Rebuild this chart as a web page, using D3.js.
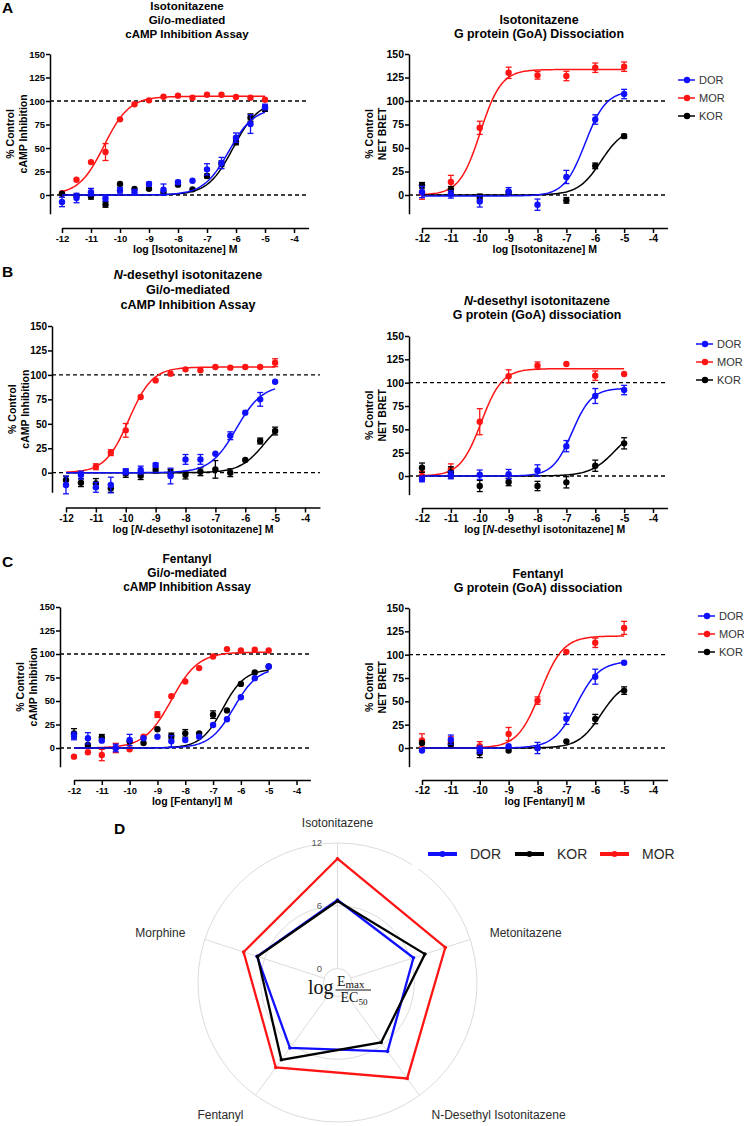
<!DOCTYPE html>
<html lang="en">
<head>
<meta charset="UTF-8">
<title>Isotonitazene, N-desethyl isotonitazene and fentanyl at opioid receptors</title>
<style>
  body { margin: 0; padding: 0; background: #fff; }
  svg { display: block; font-family: "Liberation Sans", Arial, sans-serif; }
  .axis path, .axis line { stroke: #000; stroke-width: 1.5; }
  .axis text { font-weight: bold; fill: #000; }
</style>
</head>
<body>
<div id="figure"></div>
<script src="https://d3js.org/d3.v7.min.js"></script>
<script>
const width = 744, height = 1126;
const fontFamily = '"Liberation Sans", Arial, sans-serif';

// doses (log M)
const halfLogDoses = [-12, -11.5, -11, -10.5, -10, -9.5, -9, -8.5, -8, -7.5, -7, -6.5, -6, -5.5, -5];
const logDoses = [-12, -11, -10, -9, -8, -7, -6, -5];
const xTickValues = [-12, -11, -10, -9, -8, -7, -6, -5, -4];
const yTickValues = [0, 25, 50, 75, 100, 125, 150];
const receptors = ['DOR', 'MOR', 'KOR'];
const drawOrder = ['MOR', 'KOR', 'DOR'];
const colors = { DOR: '#1010ff', MOR: '#ff1414', KOR: '#000000' };

// A: isotonitazene, cAMP inhibition
const isoCampMOR = [2, 16.3, 35, 45.7, 80.5, 96.5, 100.7, 104.6, 105.7, 103.5, 106.7, 106.7, 104.3, 103.5, 101.4];
const isoCampMORerr = [0, 0, 0, 9, 0, 0, 0, 0, 0, 0, 0, 0, 0, 0, 0];
const isoCampDOR = [-7.4, -3.2, 3, -3.5, 5, 3, 11.7, 5.7, 13.5, 15.2, 27.3, 34, 61, 75.5, 93.6];
const isoCampDORerr = [5, 5, 4, 3, 3, 3, 2, 6, 2, 0, 6, 6, 5, 10, 3];
const isoCampKOR = [1.4, -1, -1.4, -10, 11.7, 6.4, 6.7, 3, 11, 6, 20.2, 33.3, 56.4, 82.3, 92];
const isoCampKORerr = [0, 0, 3, 3, 0, 0, 0, 0, 0, 0, 2, 3, 3, 4, 3];
// A: isotonitazene, GoA dissociation
const isoGoaMOR = [2.5, 13.9, 71.5, 130, 127.3, 126.6, 135.4, 136.5];
const isoGoaMORerr = [7, 7, 7, 6, 4, 5, 5, 5];
const isoGoaDOR = [3.2, 0.7, -6.8, 3.9, -10.3, 19.2, 80.3, 107.4];
const isoGoaDORerr = [6, 4, 6, 4, 6, 7, 5, 5];
const isoGoaKOR = [10.3, 6, -2, 2, null, -5.7, 31, 62.6];
const isoGoaKORerr = [3, 3, 3, 2, 0, 3, 3, 2];

// B: N-desethyl isotonitazene, cAMP inhibition
const ndCampMOR = [null, null, 6.1, 20.5, 43.3, 77.4, 94.4, 101.3, 105.7, 104.7, 108.1, 107.4, 108.1, 108.1, 112.5];
const ndCampMORerr = [0, 0, 3, 3, 7, 0, 0, 0, 0, 0, 0, 0, 0, 0, 4];
const ndCampDOR = [-12.6, -2.4, -15, -12.6, 1, 2.7, 7.8, -3.4, 13.6, 13.6, 19.4, 37.8, 61.4, 75, 93];
const ndCampDORerr = [9, 4, 5, 8, 3, 4, 2, 8, 5, 5, 0, 4, 0, 7, 0];
const ndCampKOR = [-7.5, -10.2, -11, -16, -0.7, -3, 2.7, 0.3, -2.4, 1, 3.4, 0, 13, 32.4, 42.6];
const ndCampKORerr = [4, 4, 5, 4, 4, 4, 3, 3, 4, 4, 9, 4, 0, 3, 4];
// B: N-desethyl isotonitazene, GoA dissociation
const ndGoaMOR = [0, 7, 58.2, 106.8, 118.2, 120, 107.5, 109.3];
const ndGoaMORerr = [5, 6, 14, 7, 4, 0, 5, 0];
const ndGoaDOR = [-3.2, 1, 1.4, 2, 6, 32, 85.7, 92.1];
const ndGoaDORerr = [3, 4, 5, 5, 6, 6, 8, 5];
const ndGoaKOR = [8.9, 3.9, -10.7, -6.4, -10.7, -6.8, 11, 35];
const ndGoaKORerr = [5, 6, 6, 4, 5, 6, 6, 6];

// C: fentanyl, cAMP inhibition
const fenCampMOR = [-9.2, -4.6, -7.5, 0, -1.4, 12, 35.5, 55, 70.7, 85, 97.4, 105.2, 103.8, 104.5, 103.8];
const fenCampMORerr = [0, 0, 6, 5, 0, 0, 3, 0, 0, 0, 0, 0, 0, 0, 0];
const fenCampDOR = [12.8, 10.3, 7.8, 0, 8.5, 10.3, 12, 7.1, 8.5, 12, 24.5, 30.6, 54, 74.3, 86.7];
const fenCampDORerr = [4, 6, 0, 4, 6, 0, 0, 6, 0, 0, 0, 0, 0, 0, 0];
const fenCampKOR = [15.6, 3.2, 11.4, null, 6.8, 5.3, 20, 12.8, 15.6, 15.6, 35.5, 40, 68.2, 80.3, 86.7];
const fenCampKORerr = [5, 0, 3, 0, 0, 0, 0, 3, 4, 0, 4, 0, 0, 0, 0];
// C: fentanyl, GoA dissociation
const fenGoaMOR = [8.2, 6, 1.8, 15, 50.8, 103, 112.7, 128.7];
const fenGoaMORerr = [7, 6, 5, 7, 4, 0, 5, 7];
const fenGoaDOR = [-2.8, 8.9, -1.8, 1.8, 0, 31.3, 76.4, 91.4];
const fenGoaDORerr = [0, 5, 4, 0, 6, 6, 8, 0];
const fenGoaKOR = [5.3, 3.6, -5.3, -2.8, 0, 7.1, 31, 61.5];
const fenGoaKORerr = [0, 0, 5, 0, 0, 0, 5, 4];

// fitted curves: [bottom, top, logEC50, hill]
const isoCampFit = { MOR: [0, 105, -10.55, 1.0], DOR: [0, 93, -6.25, 1.0], KOR: [0, 100, -6.1, 1.0] };
const isoGoaFit = { MOR: [0, 133.5, -9.98, 1.2], DOR: [-1, 111, -6.35, 1.2], KOR: [0, 72, -5.8, 1.1] };
const ndCampFit = { MOR: [0, 108, -9.9, 1.1], DOR: [0, 90, -6.3, 1.0], KOR: [0, 60, -5.35, 1.05] };
const ndGoaFit = { MOR: [0, 115, -9.95, 1.2], DOR: [0, 94, -6.8, 1.3], KOR: [0, 55, -5.3, 1.0] };
const fenCampFit = { MOR: [0, 102, -8.5, 0.9], DOR: [0, 86, -6.25, 1.0], KOR: [0, 84, -6.65, 1.1] };
const fenGoaFit = { MOR: [0, 120, -7.9, 1.1], DOR: [0, 93, -6.65, 1.1], KOR: [0, 72, -5.8, 1.1] };

// D: radar, log(Emax/EC50)
const radarAxes = ['Isotonitazene', 'Metonitazene', 'N-Desethyl Isotonitazene', 'Fentanyl', 'Morphine'];
const radarTicks = [0, 6, 12];
const radarDOR = [6.55, 6.3, 6.8, 6.4, 6.75];
const radarKOR = [6.45, 7.45, 5.75, 7.8, 6.7];
const radarMOR = [10.5, 9.5, 10.0, 8.7, 8.1];
const radarSeries = [['DOR', radarDOR], ['KOR', radarKOR], ['MOR', radarMOR]];

const panels = [
  { doses: halfLogDoses, fit: isoCampFit,
    values: { DOR: isoCampDOR, MOR: isoCampMOR, KOR: isoCampKOR },
    errors: { DOR: isoCampDORerr, MOR: isoCampMORerr, KOR: isoCampKORerr },
    x12: 62, x4: 294, yAxisX: 50, yTop: 54, yZero: 195, xAxisY: 228,
    title: ['Isotonitazene', 'Gi/o-mediated', 'cAMP Inhibition Assay'],
    titleX: 187, titleY: 9.5, titleStep: 14, titleSize: 11.5, tickSize: 9.5,
    yLabel: ['% Control', 'cAMP Inhibition'], xLabel: 'log [Isotonitazene] M',
    letter: 'A', letterY: 12.5 },
  { doses: logDoses, fit: isoGoaFit,
    values: { DOR: isoGoaDOR, MOR: isoGoaMOR, KOR: isoGoaKOR },
    errors: { DOR: isoGoaDORerr, MOR: isoGoaMORerr, KOR: isoGoaKORerr },
    x12: 422, x4: 653, yAxisX: 409, yTop: 54, yZero: 195, xAxisY: 228,
    title: ['Isotonitazene', 'G protein (GoA) Dissociation'],
    titleX: 539, titleY: 24, titleStep: 14, titleSize: 12.4, tickSize: 10.5,
    yLabel: ['% Control', 'NET BRET'], xLabel: 'log [Isotonitazene] M',
    legend: { x: 678, y: 80 } },
  { doses: halfLogDoses, fit: ndCampFit,
    values: { DOR: ndCampDOR, MOR: ndCampMOR, KOR: ndCampKOR },
    errors: { DOR: ndCampDORerr, MOR: ndCampMORerr, KOR: ndCampKORerr },
    x12: 66, x4: 305, yAxisX: 52, yTop: 326, yZero: 472.7, xAxisY: 507.5,
    title: ['<i>N</i>-desethyl isotonitazene', 'Gi/o-mediated', 'cAMP Inhibition Assay'],
    titleX: 188, titleY: 279, titleStep: 15, titleSize: 12.6, tickSize: 10,
    yLabel: ['% Control', 'cAMP Inhibition'], xLabel: 'log [<i>N</i>-desethyl isotonitazene] M',
    letter: 'B', letterY: 277 },
  { doses: logDoses, fit: ndGoaFit,
    values: { DOR: ndGoaDOR, MOR: ndGoaMOR, KOR: ndGoaKOR },
    errors: { DOR: ndGoaDORerr, MOR: ndGoaMORerr, KOR: ndGoaKORerr },
    x12: 422, x4: 653, yAxisX: 409, yTop: 336, yZero: 476, xAxisY: 508,
    title: ['<i>N</i>-desethyl isotonitazene', 'G protein (GoA) dissociation'],
    titleX: 537, titleY: 305, titleStep: 14.3, titleSize: 12.4, tickSize: 10.5,
    yLabel: ['% Control', 'NET BRET'], xLabel: 'log [<i>N</i>-desethyl isotonitazene] M',
    legend: { x: 696, y: 344 } },
  { doses: halfLogDoses, fit: fenCampFit,
    values: { DOR: fenCampDOR, MOR: fenCampMOR, KOR: fenCampKOR },
    errors: { DOR: fenCampDORerr, MOR: fenCampMORerr, KOR: fenCampKORerr },
    x12: 74, x4: 296.5, yAxisX: 60, yTop: 607, yZero: 748, xAxisY: 780,
    title: ['Fentanyl', 'Gi/o-mediated', 'cAMP Inhibition Assay'],
    titleX: 187, titleY: 563, titleStep: 14, titleSize: 11.9, tickSize: 9.3,
    yLabel: ['% Control', 'cAMP Inhibition'], xLabel: 'log [Fentanyl] M',
    letter: 'C', letterY: 567 },
  { doses: logDoses, fit: fenGoaFit,
    values: { DOR: fenGoaDOR, MOR: fenGoaMOR, KOR: fenGoaKOR },
    errors: { DOR: fenGoaDORerr, MOR: fenGoaMORerr, KOR: fenGoaKORerr },
    x12: 422, x4: 653, yAxisX: 409, yTop: 608, yZero: 748, xAxisY: 780,
    title: ['Fentanyl', 'G protein (GoA) dissociation'],
    titleX: 538, titleY: 577.5, titleStep: 14.2, titleSize: 12.4, tickSize: 10.5,
    yLabel: ['% Control', 'NET BRET'], xLabel: 'log [Fentanyl] M',
    legend: { x: 698, y: 616 } }
];

const svg = d3.select('#figure').append('svg')
  .attr('width', width)
  .attr('height', height);

svg.append('rect').attr('width', width).attr('height', height).attr('fill', '#fff');

function logistic(p, xv) {
  const [bottom, top, logEC50, hill] = p;
  return bottom + (top - bottom) / (1 + Math.pow(10, (logEC50 - xv) * hill));
}

// text with <i>..</i> parts
function richText(sel, str) {
  str.split(/(<i>.*?<\/i>)/).filter(s => s.length).forEach(part => {
    const it = part.startsWith('<i>');
    sel.append('tspan')
      .attr('font-style', it ? 'italic' : null)
      .text(it ? part.slice(3, -4) : part);
  });
  return sel;
}

function drawPanel(p) {
  const g = svg.append('g');
  const x = d3.scaleLinear().domain([-12, -4]).range([p.x12, p.x4]);
  const y = d3.scaleLinear().domain([0, 150]).range([p.yZero, p.yTop]);
  const xEnd = x(-3.5);

  // reference lines at 0 and 100
  g.selectAll('.ref').data([0, 100]).join('line')
    .attr('class', 'ref')
    .attr('x1', p.yAxisX).attr('x2', xEnd)
    .attr('y1', d => y(d)).attr('y2', d => y(d))
    .attr('stroke', '#000').attr('stroke-width', 1.3)
    .attr('stroke-dasharray', '4,3');

  // y axis (-20 .. 150)
  const yAxisScale = d3.scaleLinear().domain([-20, 150]).range([y(-20), y(150)]);
  g.append('g').attr('class', 'axis')
    .attr('transform', `translate(${p.yAxisX},0)`)
    .call(d3.axisLeft(yAxisScale).tickValues(yTickValues).tickSize(4)
      .tickSizeOuter(0).tickPadding(1).tickFormat(d => String(d)))
    .attr('font-family', fontFamily).attr('font-size', p.tickSize);

  // x axis (-12 .. -3.5), detached below
  const xAxisScale = d3.scaleLinear().domain([-12, -3.5]).range([x(-12), xEnd]);
  g.append('g').attr('class', 'axis')
    .attr('transform', `translate(0,${p.xAxisY})`)
    .call(d3.axisBottom(xAxisScale).tickValues(xTickValues).tickSize(5)
      .tickSizeOuter(0).tickPadding(2).tickFormat(d => String(d)))
    .attr('font-family', fontFamily).attr('font-size', p.tickSize);

  // series
  const curveX = d3.range(-12, -4.999, 0.05);
  const line = d3.line().x(d => x(d[0])).y(d => y(d[1]));
  drawOrder.forEach(rec => {
    const col = colors[rec];
    g.append('path')
      .datum(curveX.map(v => [v, logistic(p.fit[rec], v)]))
      .attr('d', line)
      .attr('fill', 'none')
      .attr('stroke', col)
      .attr('stroke-width', 1.5);

    const pts = p.doses.map((d, i) => ({ x: d, y: p.values[rec][i], e: p.errors[rec][i] }))
      .filter(d => d.y !== null);

    const bars = g.append('g').attr('stroke', col).attr('stroke-width', 1.3);
    pts.filter(d => d.e > 0).forEach(d => {
      bars.append('line').attr('x1', x(d.x)).attr('x2', x(d.x))
        .attr('y1', y(d.y - d.e)).attr('y2', y(d.y + d.e));
      [d.y - d.e, d.y + d.e].forEach(v => {
        bars.append('line').attr('x1', x(d.x) - 3).attr('x2', x(d.x) + 3)
          .attr('y1', y(v)).attr('y2', y(v));
      });
    });

    g.append('g').selectAll('circle').data(pts).join('circle')
      .attr('cx', d => x(d.x)).attr('cy', d => y(d.y))
      .attr('r', 3.2).attr('fill', col);
  });

  // title
  p.title.forEach((t, i) => {
    richText(g.append('text')
      .attr('x', p.titleX).attr('y', p.titleY + i * p.titleStep)
      .attr('text-anchor', 'middle').attr('font-weight', 'bold')
      .attr('font-size', p.titleSize), t);
  });

  // axis labels
  const yMid = (y(-20) + y(150)) / 2;
  p.yLabel.forEach((t, i) => {
    g.append('text')
      .attr('transform', `translate(${p.yAxisX - 36.5 + i * 13},${yMid}) rotate(-90)`)
      .attr('text-anchor', 'middle').attr('font-weight', 'bold')
      .attr('font-size', 10.5).text(t);
  });
  richText(g.append('text')
    .attr('x', (x(-12) + xEnd) / 2).attr('y', p.xAxisY + 25)
    .attr('text-anchor', 'middle').attr('font-weight', 'bold')
    .attr('font-size', 10.5), p.xLabel);

  if (p.letter) {
    g.append('text').attr('x', 2).attr('y', p.letterY)
      .attr('font-weight', 'bold').attr('font-size', 15.5).text(p.letter);
  }

  if (p.legend) {
    const lg = g.append('g').attr('transform', `translate(${p.legend.x},${p.legend.y})`);
    receptors.forEach((rec, i) => {
      const row = lg.append('g').attr('transform', `translate(0,${i * 18})`);
      row.append('line').attr('x1', 0).attr('x2', 17).attr('stroke', colors[rec]).attr('stroke-width', 1.5);
      row.append('circle').attr('cx', 9).attr('r', 3.2).attr('fill', colors[rec]);
      row.append('text').attr('x', 21).attr('dy', '0.35em')
        .attr('font-size', 11).attr('fill', '#333').text(rec);
    });
  }
}

panels.forEach(drawPanel);

// ---- D: radar ----
const cx = 337.5, cy = 982.5;
const r = d3.scaleLinear().domain([0, 12]).range([14, 139.5]);
const ang = i => i * 2 * Math.PI / radarAxes.length;
const pt = (i, v) => [cx + r(v) * Math.sin(ang(i)), cy - r(v) * Math.cos(ang(i))];

const radar = svg.append('g');
radar.selectAll('.grid').data(radarTicks).join('circle')
  .attr('cx', cx).attr('cy', cy).attr('r', d => r(d))
  .attr('fill', 'none').attr('stroke', '#dcdcdc').attr('stroke-width', 1);

radar.selectAll('.spoke').data(radarAxes).join('line')
  .attr('x1', (d, i) => pt(i, 0)[0]).attr('y1', (d, i) => pt(i, 0)[1])
  .attr('x2', (d, i) => pt(i, 12)[0]).attr('y2', (d, i) => pt(i, 12)[1])
  .attr('stroke', '#dcdcdc').attr('stroke-width', 1);

radar.selectAll('.tick').data(radarTicks).join('text')
  .attr('x', cx - 15.5).attr('y', d => cy - r(d)).attr('dy', '0.35em')
  .attr('text-anchor', 'end').attr('font-size', 9.5).attr('fill', '#555')
  .text(d => d);

radarAxes.forEach((name, i) => {
  const a = ang(i);
  const [lx, ly] = [cx + 160 * Math.sin(a), cy - 160 * Math.cos(a)];
  const sx = Math.sin(a);
  radar.append('text')
    .attr('x', i === 0 ? cx : lx)
    .attr('y', i === 0 ? cy - 160 : ly + (Math.cos(a) < 0 ? 3 : 0))
    .attr('dy', '0.35em')
    .attr('text-anchor', Math.abs(sx) < 0.01 ? 'middle' : (sx > 0 ? 'start' : 'end'))
    .attr('font-size', 12).attr('fill', '#2b2b2b')
    .text(name);
});

const radarLine = d3.line().curve(d3.curveLinearClosed);
radarSeries.forEach(([rec, vals]) => {
  const coords = vals.map((v, i) => pt(i, v));
  radar.append('path').attr('d', radarLine(coords))
    .attr('fill', 'none').attr('stroke', colors[rec]).attr('stroke-width', 2.3)
    .attr('stroke-linejoin', 'miter');
  radar.append('g').selectAll('circle').data(coords).join('circle')
    .attr('cx', d => d[0]).attr('cy', d => d[1]).attr('r', 1.8).attr('fill', colors[rec]);
});

// centre label: log Emax / EC50
const ctr = radar.append('g').attr('font-family', '"Liberation Serif", "DejaVu Serif", serif').attr('fill', '#111');
ctr.append('text').attr('x', 308).attr('y', 994).attr('font-size', 20).text('log');
const num = ctr.append('text').attr('x', 337).attr('y', 986).attr('font-size', 14);
num.append('tspan').text('E');
num.append('tspan').attr('font-size', 11).attr('dy', 1.5).text('max');
ctr.append('line').attr('x1', 335.5).attr('x2', 371).attr('y1', 990).attr('y2', 990)
  .attr('stroke', '#111').attr('stroke-width', 1);
const den = ctr.append('text').attr('x', 340.5).attr('y', 1001.5).attr('font-size', 14);
den.append('tspan').text('EC');
den.append('tspan').attr('font-size', 9).attr('dy', 3).text('50');

// legend of D (white box hides part of outer ring)
const dl = svg.append('g');
dl.append('rect').attr('x', 412).attr('y', 838).attr('width', 332).attr('height', 31).attr('fill', '#fff');
[['DOR', 428, 470], ['KOR', 515, 557], ['MOR', 600, 642]].forEach(([rec, lx, tx]) => {
  dl.append('line').attr('x1', lx).attr('x2', lx + 29).attr('y1', 854).attr('y2', 854)
    .attr('stroke', colors[rec]).attr('stroke-width', 4);
  dl.append('circle').attr('cx', lx + 14.5).attr('cy', 854).attr('r', 3).attr('fill', colors[rec]);
  dl.append('text').attr('x', tx).attr('y', 854).attr('dy', '0.35em')
    .attr('font-size', 14).attr('fill', '#2b2b2b').text(rec);
});

svg.append('text').attr('x', 114).attr('y', 834)
  .attr('font-weight', 'bold').attr('font-size', 15.5).text('D');
</script>
</body>
</html>
